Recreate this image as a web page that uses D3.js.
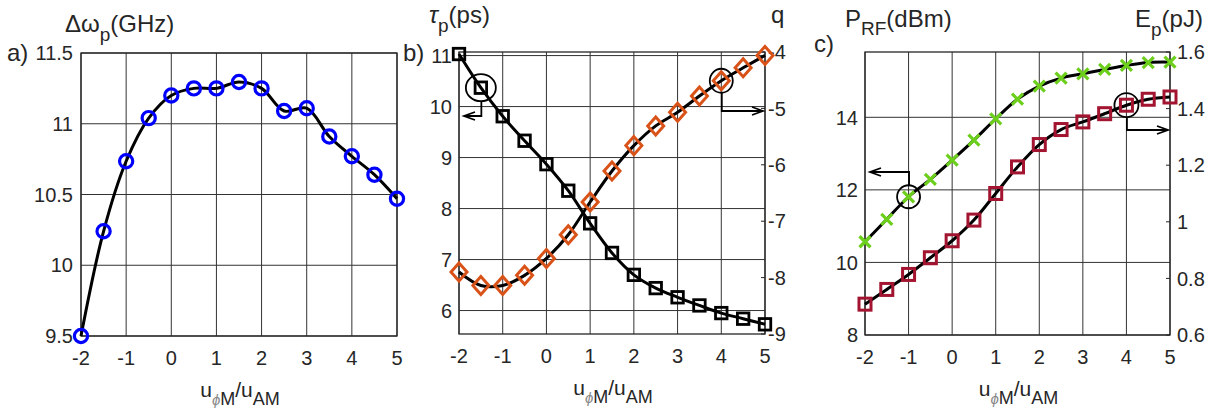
<!DOCTYPE html>
<html><head><meta charset="utf-8">
<script src="https://cdn.jsdelivr.net/npm/d3@7"></script>
<style>
body{margin:0;background:#fff;}
svg{font-family:"Liberation Sans",Arial,Helvetica,sans-serif;}
</style></head>
<body><svg id="chart" width="1218" height="412"></svg>
<script>
// ---- data ----
const xVals = [-2,-1.5,-1,-0.5,0,0.5,1,1.5,2,2.5,3,3.5,4,4.5,5];
const dOmega = [9.5,10.24,10.735,11.04,11.20,11.25,11.25,11.295,11.25,11.09,11.11,10.91,10.77,10.64,10.47];
const tauP = [11.03,10.37,9.81,9.33,8.87,8.35,7.71,7.13,6.70,6.44,6.26,6.10,5.95,5.84,5.73];
const qVals = [-7.90,-8.14,-8.14,-7.96,-7.66,-7.24,-6.66,-6.11,-5.66,-5.31,-5.07,-4.78,-4.51,-4.28,-4.06];
const pRF = [10.57,11.19,11.81,12.29,12.82,13.37,13.96,14.50,14.86,15.08,15.20,15.32,15.43,15.51,15.52];
const eP = [0.709,0.761,0.814,0.873,0.933,1.006,1.100,1.194,1.273,1.326,1.353,1.382,1.412,1.433,1.441];
const xTicks = [-2,-1,0,1,2,3,4,5];
const aTicks = [9.5,10,10.5,11,11.5];
const bLeftTicks = [6,7,8,9,10,11];
const bRightTicks = [-9,-8,-7,-6,-5,-4];
const cLeftTicks = [8,10,12,14];
const cRightTicks = [0.6,0.8,1,1.2,1.4,1.6];

const svg = d3.select("#chart");
const TXT = "#262626";
const TFS = 20;
const fmt = v => String(v).replace("\u2212","-");

function panel(box, yDomL, yTicksL, yDomR, yTicksR, lbOffL, lbOffR){
  const g = svg.append("g");
  const x = d3.scaleLinear().domain([-2,5]).range([box.l, box.r]);
  const yL = d3.scaleLinear().domain(yDomL).range([box.b, box.t]);
  const yR = yDomR ? d3.scaleLinear().domain(yDomR).range([box.b, box.t]) : null;
  g.selectAll(".vg").data(xTicks).join("line")
    .attr("x1", d=>x(d)).attr("x2", d=>x(d)).attr("y1", box.t).attr("y2", box.b)
    .attr("stroke", "#333").attr("stroke-width", 1);
  g.selectAll(".hg").data(yTicksL).join("line")
    .attr("x1", box.l).attr("x2", box.r).attr("y1", d=>yL(d)).attr("y2", d=>yL(d))
    .attr("stroke", "#333").attr("stroke-width", 1);
  g.append("rect").attr("x", box.l).attr("y", box.t).attr("width", box.r-box.l).attr("height", box.b-box.t)
    .attr("fill","none").attr("stroke","#262626").attr("stroke-width",1.3);
  g.selectAll(".xt").data(xTicks).join("text")
    .attr("x", d=>x(d)).attr("y", box.b+29).attr("text-anchor","middle")
    .attr("font-size",TFS).attr("fill",TXT).text(d=>fmt(d3.format("d")(d)));
  g.selectAll(".yl").data(yTicksL).join("text")
    .attr("x", box.l-lbOffL).attr("y", d=>yL(d)).attr("dy","0.36em").attr("text-anchor","end")
    .attr("font-size",TFS).attr("fill",TXT).text(d=>fmt(String(d)));
  if (yR){
    g.selectAll(".yrt").data(yTicksR).join("line")
      .attr("x1", box.r-4).attr("x2", box.r).attr("y1", d=>yR(d)).attr("y2", d=>yR(d))
      .attr("stroke","#262626").attr("stroke-width",1);
    g.selectAll(".yr").data(yTicksR).join("text")
      .attr("x", box.r+lbOffR).attr("y", d=>yR(d)).attr("dy","0.36em").attr("text-anchor","start")
      .attr("font-size",TFS).attr("fill",TXT).text(d=>fmt(String(d)));
  }
  const xl = g.append("text").attr("x", (box.l+box.r)/2 + 1).attr("y", box.b+61)
    .attr("text-anchor","middle").attr("font-size",21).attr("fill",TXT);
  xl.append("tspan").text("u");
  xl.append("tspan").attr("dy",8).attr("font-size",15).attr("font-style","italic").attr("fill","#888").text("\u03d5");
  xl.append("tspan").attr("font-size",18).text("M");
  xl.append("tspan").attr("dy",-8).text("/u");
  xl.append("tspan").attr("dy",8).attr("font-size",18).text("AM");
  return {g, x, yL, yR};
}

const curve = d3.curveCatmullRom.alpha(0.5);
function drawLine(p, ys, yScale){
  p.g.append("path").datum(xVals.map((v,i)=>[v, ys[i]]))
    .attr("fill","none").attr("stroke","#000").attr("stroke-width",3)
    .attr("d", d3.line().x(d=>p.x(d[0])).y(d=>yScale(d[1])).curve(curve));
}
function circles(p, ys, yScale, color){
  p.g.selectAll(null).data(xVals.map((v,i)=>[v, ys[i]])).join("circle")
    .attr("cx", d=>p.x(d[0])).attr("cy", d=>yScale(d[1])).attr("r",6.6)
    .attr("fill","none").attr("stroke",color).attr("stroke-width",3.2);
}
function squares(p, ys, yScale, color, s, w){
  p.g.selectAll(null).data(xVals.map((v,i)=>[v, ys[i]])).join("rect")
    .attr("x", d=>p.x(d[0])-s/2).attr("y", d=>yScale(d[1])-s/2).attr("width",s).attr("height",s)
    .attr("fill","none").attr("stroke",color).attr("stroke-width",w);
}
function diamonds(p, ys, yScale, color){
  p.g.selectAll(null).data(xVals.map((v,i)=>[v, ys[i]])).join("path")
    .attr("d", d=>{const cx=p.x(d[0]), cy=yScale(d[1]); return `M${cx},${cy-9}L${cx+8},${cy}L${cx},${cy+9}L${cx-8},${cy}Z`;})
    .attr("fill","none").attr("stroke",color).attr("stroke-width",3);
}
function crosses(p, ys, yScale, color){
  p.g.selectAll(null).data(xVals.map((v,i)=>[v, ys[i]])).join("path")
    .attr("d", d=>{const cx=p.x(d[0]), cy=yScale(d[1]), h=5.5; return `M${cx-h},${cy-h}L${cx+h},${cy+h}M${cx-h},${cy+h}L${cx+h},${cy-h}`;})
    .attr("fill","none").attr("stroke",color).attr("stroke-width",3.2);
}
function annot(p, px, py, rx, ry, dir, yTurn, xEnd){
  const cx = p.x(px), cy = py;
  p.g.append("ellipse").attr("cx",cx).attr("cy",cy).attr("rx",rx).attr("ry",ry)
    .attr("fill","none").attr("stroke","#000").attr("stroke-width",1.8);
  const y0 = yTurn > cy ? cy+ry : cy-ry;
  p.g.append("path").attr("d",`M${cx+0.5},${y0}V${yTurn}H${xEnd}`)
    .attr("fill","none").attr("stroke","#000").attr("stroke-width",1.8);
  const s = dir==="left" ? 1 : -1;
  p.g.append("path").attr("d",`M${xEnd+s*11},${yTurn-4}L${xEnd},${yTurn}L${xEnd+s*11},${yTurn+4}`)
    .attr("fill","none").attr("stroke","#000").attr("stroke-width",1.8);
}
function richLabel(x, y, parts){
  const t = svg.append("text").attr("x",x).attr("y",y).attr("font-size",24).attr("fill",TXT);
  parts.forEach(pt=>{
    const s = t.append("tspan").text(pt.t);
    if (pt.dy) s.attr("dy",pt.dy);
    if (pt.fs) s.attr("font-size",pt.fs);
    if (pt.it) s.attr("font-style","italic");
  });
}

// ---- panel a ----
const pa = panel({l:81,r:397,t:53,b:336},[9.5,11.5],aTicks,null,null,8,0);
drawLine(pa, dOmega, pa.yL);
circles(pa, dOmega, pa.yL, "#0000ff");

// ---- panel b ----
const pb = panel({l:459,r:765,t:52,b:334},[5.54,11.07],bLeftTicks,[-9,-4],bRightTicks,7,3);
drawLine(pb, tauP, pb.yL);
drawLine(pb, qVals, pb.yR);
squares(pb, tauP, pb.yL, "#000", 11.5, 2.8);
diamonds(pb, qVals, pb.yR, "#D95319");
annot(pb, xVals[1], pb.yL(tauP[1]), 15, 13.5, "left", 116, 464);
annot(pb, xVals[12], pb.yR(qVals[12]), 11.5, 12, "right", 111, 763);

// ---- panel c ----
const pc = panel({l:865,r:1170,t:52,b:335},[8,15.8],cLeftTicks,[0.6,1.6],cRightTicks,7,7);
drawLine(pc, pRF, pc.yL);
drawLine(pc, eP, pc.yR);
crosses(pc, pRF, pc.yL, "#6ccf1c");
squares(pc, eP, pc.yR, "#A2142F", 12, 3);
annot(pc, xVals[2], pc.yL(pRF[2]), 11.5, 11.5, "left", 172, 870);
annot(pc, xVals[12], pc.yR(eP[12]), 12, 12, "right", 130, 1168);

// ---- labels ----
richLabel(65, 32, [{t:"\u0394\u03c9"},{t:"p",dy:9,fs:19},{t:"(GHz)",dy:-9}]);
richLabel(429, 23, [{t:"\u03c4",it:true},{t:"p",dy:9,fs:19},{t:"(ps)",dy:-9}]);
richLabel(771, 23, [{t:"q"}]);
richLabel(845, 27, [{t:"P"},{t:"RF",dy:8,fs:19},{t:"(dBm)",dy:-8}]);
richLabel(1135, 27, [{t:"E"},{t:"p",dy:9,fs:19},{t:"(pJ)",dy:-9}]);
svg.append("text").attr("x",7).attr("y",61).attr("font-size",24).attr("fill",TXT).text("a)");
svg.append("text").attr("x",403).attr("y",61).attr("font-size",24).attr("fill",TXT).text("b)");
svg.append("text").attr("x",814).attr("y",52).attr("font-size",24).attr("fill",TXT).text("c)");
</script></body></html>
